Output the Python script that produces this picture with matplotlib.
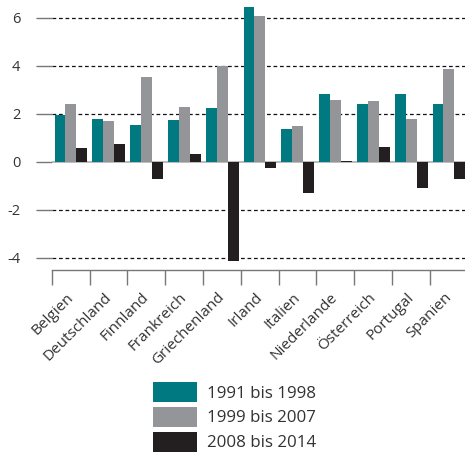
import matplotlib
matplotlib.use("Agg")
import matplotlib.pyplot as plt
import matplotlib.transforms as mtransforms
import numpy as np

plt.rcParams['font.family'] = ['Open Sans', 'DejaVu Sans']

countries = ["Belgien", "Deutschland", "Finnland", "Frankreich", "Griechenland",
             "Irland", "Italien", "Niederlande", "Österreich", "Portugal", "Spanien"]
s1991_1998 = [1.93, 1.76, 1.51, 1.72, 2.22, 6.44, 1.35, 2.81, 2.39, 2.81, 2.39]
s1999_2007 = [2.39, 1.68, 3.51, 2.26, 3.97, 6.07, 1.47, 2.56, 2.51, 1.76, 3.85]
s2008_2014 = [0.57, 0.72, -0.74, 0.31, -4.14, -0.28, -1.31, 0.03, 0.60, -1.10, -0.72]
series_labels = ["1991 bis 1998", "1999 bis 2007", "2008 bis 2014"]
colors = ["#007A80", "#939598", "#231F20"]
yticks = [-4, -2, 0, 2, 4, 6]

W, H = 465, 459
fig = plt.figure(figsize=(W / 100, H / 100), dpi=100)
left = 51.7 / W
right = (51.7 + 11 * 37.8) / W
bottom = 1 - 270 / H
top = 1 - 3.1 / H
ax = fig.add_axes([left, bottom, right - left, top - bottom])

x = np.arange(len(countries))
bw = 0.29
handles = []
for i, (vals, c, lab) in enumerate(zip([s1991_1998, s1999_2007, s2008_2014], colors, series_labels)):
    h = ax.bar(x + (i - 1) * bw + 0.01, vals, width=bw, color=c, label=lab, zorder=3, linewidth=0)
    handles.append(h)

ax.set_xlim(-0.5, len(countries) - 0.5)
ax.set_ylim(-4.52, 6.6)

# gridlines
for t in yticks:
    if t == 0:
        ax.axhline(0, color="#b5b5b5", lw=1.3, zorder=2)
    else:
        ax.axhline(t, color="#111111", lw=0.9, ls=(0, (3, 2.2)), zorder=1)

ax.set_yticks(yticks)
ax.set_yticklabels([str(t) for t in yticks])
ax.tick_params(axis='y', length=11.5, width=1.0, color="#777777", pad=11,
               labelsize=10.5, labelcolor="#333333")

ax.set_xticks(x)
ax.set_xticklabels(countries, rotation=45, ha='right', va='baseline', rotation_mode='anchor')
ax.tick_params(axis='x', which='major', length=0, pad=20, labelsize=11, labelcolor="#333333")
ax.set_xticks(np.arange(len(countries) + 1) - 0.5, minor=True)
ax.tick_params(axis='x', which='minor', length=11, width=1.0, color="#777777")
shift = mtransforms.ScaledTranslation(0.03, 0, fig.dpi_scale_trans)
for lbl in ax.get_xticklabels():
    lbl.set_transform(lbl.get_transform() + shift)

for s in ["left", "right", "top"]:
    ax.spines[s].set_visible(False)
ax.spines["bottom"].set_color("#777777")
ax.spines["bottom"].set_linewidth(1.0)

fig.legend(handles=handles, labels=series_labels, loc='upper left',
           bbox_to_anchor=(153 / W, 1 - 382 / H), frameon=False, fontsize=12.2,
           handlelength=2.6, handleheight=1.42, labelspacing=0.3,
           handletextpad=0.6, borderpad=0, borderaxespad=0, labelcolor="#333333")

fig.savefig("out.png", dpi=100)
